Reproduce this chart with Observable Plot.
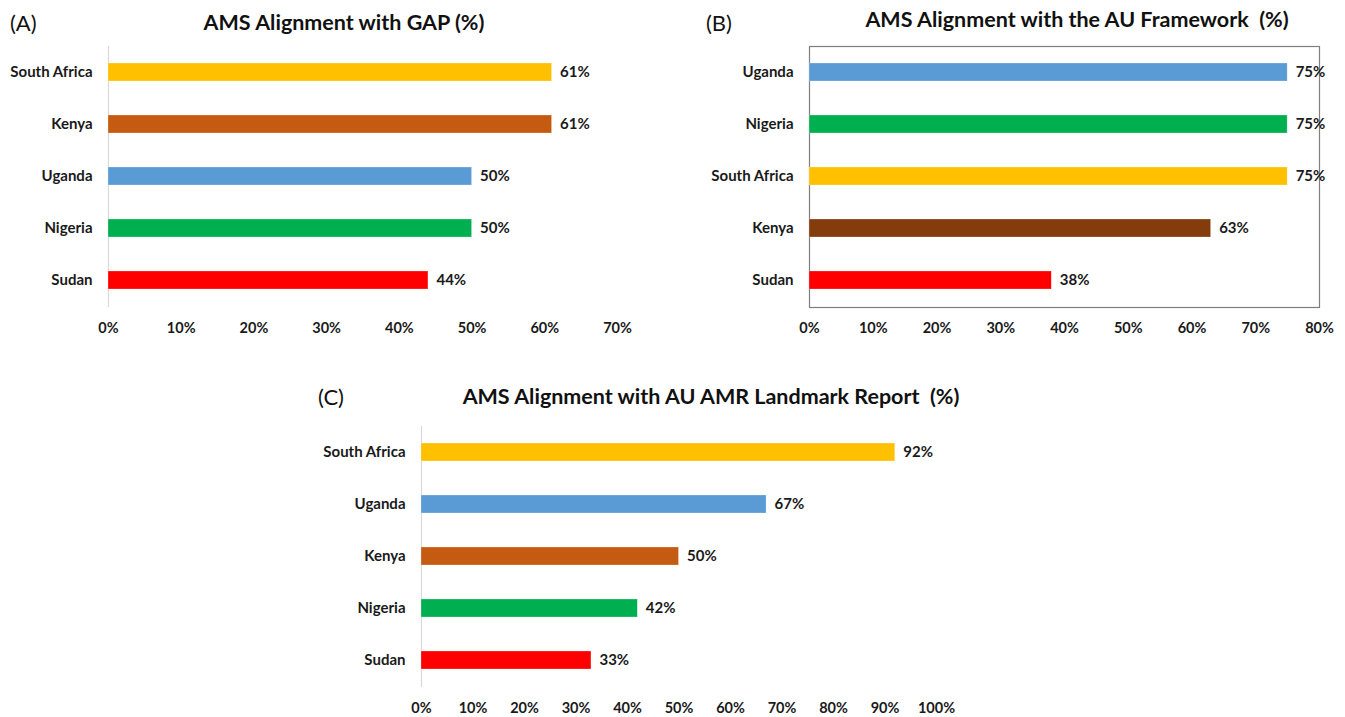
<!DOCTYPE html>
<html>
<head>
<meta charset="utf-8">
<script src="https://cdn.jsdelivr.net/npm/d3@7"></script>
<script src="https://cdn.jsdelivr.net/npm/@observablehq/plot@0.6"></script>
<style>
  html, body { margin: 0; padding: 0; background: #fff; }
  #root { position: relative; width: 1345px; height: 717px; font-family: Lato, "Open Sans", sans-serif; color: #111; }
  .panel { position: absolute; }
  .title { position: absolute; font-weight: 700; font-size: 21.5px; white-space: nowrap; transform: translate(-50%, -50%); }
  .letter { position: absolute; font-weight: 400; font-size: 22px; white-space: nowrap; transform: translateY(-50%); }
</style>
</head>
<body>
<div id="root"></div>
<script>
// Panel A: AMS Alignment with GAP (%)
const countriesA = ["South Africa", "Kenya", "Uganda", "Nigeria", "Sudan"];
const valuesA = [61, 61, 50, 50, 44];
const colorsA = ["#FFC000", "#C55A11", "#5B9BD5", "#00B050", "#FF0000"];
const ticksA = [0, 10, 20, 30, 40, 50, 60, 70];

// Panel B: AMS Alignment with the AU Framework (%)
const countriesB = ["Uganda", "Nigeria", "South Africa", "Kenya", "Sudan"];
const valuesB = [75, 75, 75, 63, 38];
const colorsB = ["#5B9BD5", "#00B050", "#FFC000", "#843C0C", "#FF0000"];
const ticksB = [0, 10, 20, 30, 40, 50, 60, 70, 80];

// Panel C: AMS Alignment with AU AMR Landmark Report (%)
const countriesC = ["South Africa", "Uganda", "Kenya", "Nigeria", "Sudan"];
const valuesC = [92, 67, 50, 42, 33];
const colorsC = ["#FFC000", "#5B9BD5", "#C55A11", "#00B050", "#FF0000"];
const ticksC = [0, 10, 20, 30, 40, 50, 60, 70, 80, 90, 100];

const root = document.getElementById("root");
const FONT = "Lato, 'Open Sans', sans-serif";

function panel({countries, values, colors, ticks, left, top, width, height, margins, frame, xTickPad}) {
  const data = countries.map((c, i) => ({country: c, value: values[i], color: colors[i]}));
  const p = Plot.plot({
    width, height,
    marginLeft: margins[0], marginRight: margins[1], marginTop: margins[2], marginBottom: margins[3],
    style: {fontFamily: FONT, fontSize: "15px", fontWeight: 700, color: "#1a1a1a", background: "white", overflow: "visible"},
    x: {domain: [0, ticks[ticks.length - 1]], ticks, tickFormat: d => d + "%", tickSize: 0, tickPadding: xTickPad, label: null},
    y: {domain: countries, paddingInner: 0.65, paddingOuter: 0.325, tickSize: 0, tickPadding: 16, label: null},
    marks: [
      frame ? Plot.frame({stroke: "#7f7f7f", strokeWidth: 1.2}) : Plot.ruleX([0], {stroke: "#d9d9d9", strokeWidth: 1.2}),
      Plot.axisX({ticks, tickFormat: d => d + "%", tickSize: 0, tickPadding: xTickPad, fontSize: 14.5, label: null}),
      Plot.barX(data, {x: "value", y: "country", fill: "color", stroke: "white", strokeOpacity: 0.5, strokeWidth: 0.5}),
      Plot.text(data, {x: "value", y: "country", text: d => d.value + "%", textAnchor: "start", dx: 8, fontWeight: 700, fontSize: 15, fill: "#1a1a1a"})
    ]
  });
  p.classList.add("panel");
  p.style.left = left + "px";
  p.style.top = top + "px";
  root.appendChild(p);
}

function label(cls, text, x, y) {
  const d = document.createElement("div");
  d.className = cls;
  d.textContent = text;
  d.style.left = x + "px";
  d.style.top = y + "px";
  root.appendChild(d);
}

panel({countries: countriesA, values: valuesA, colors: colorsA, ticks: ticksA,
  left: 0, top: 0, width: 672, height: 345, margins: [108, 55, 46, 38], frame: false, xTickPad: 15});
panel({countries: countriesB, values: valuesB, colors: colorsB, ticks: ticksB,
  left: 672, top: 0, width: 673, height: 345, margins: [137, 26, 46, 38], frame: true, xTickPad: 15});
panel({countries: countriesC, values: valuesC, colors: colorsC, ticks: ticksC,
  left: 300, top: 370, width: 680, height: 347, margins: [121, 44, 56, 30], frame: false, xTickPad: 15});

label("letter", "(A)", 10, 22);
label("title", "AMS Alignment with GAP (%)", 344, 22);
label("letter", "(B)", 706, 22);
label("title", "AMS Alignment with the AU Framework\u00a0 (%)", 1077, 19);
label("letter", "(C)", 318, 396);
label("title", "AMS Alignment with AU AMR Landmark Report\u00a0 (%)", 711, 396);
</script>
</body>
</html>
